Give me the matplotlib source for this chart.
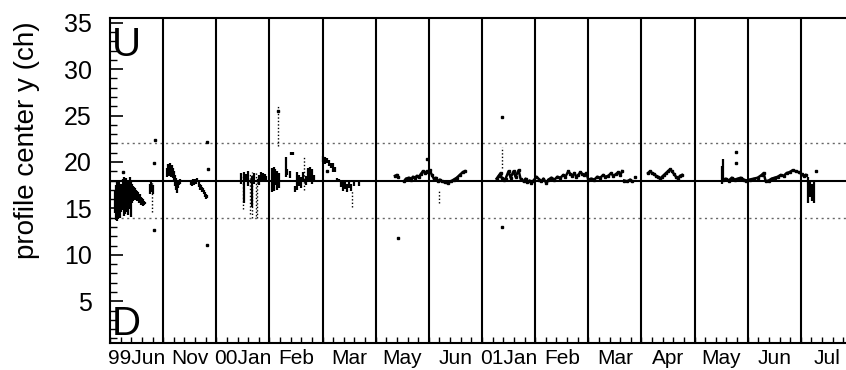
import numpy as np
import matplotlib
matplotlib.use("Agg")
import matplotlib.pyplot as plt

plt.rcParams['font.family'] = ['Liberation Sans', 'DejaVu Sans']

# month bins along the x axis (one bin per month with data)
months = ["99Jun", "Nov", "00Jan", "Feb", "Mar", "May", "Jun",
          "01Jan", "Feb", "Mar", "Apr", "May", "Jun", "Jul"]

y_nominal = 18.0
y_band = (14.0, 22.0)

# dense vertical spreads of the profile centre: x (bin units), low, high
spread_x = [0.094, 0.113, 0.131, 0.150, 0.169, 0.188, 0.206, 0.225, 0.244, 0.263,
            0.281, 0.300, 0.319, 0.338, 0.356, 0.375, 0.394, 0.413, 0.431, 0.450,
            0.469, 0.488, 0.506, 0.525, 0.544, 0.563, 0.581, 0.600, 0.619, 0.638,
            0.656, 0.750, 0.769, 0.806,
            1.069, 1.088, 1.106, 1.125, 1.144, 1.163, 1.181, 1.200, 1.219, 1.238,
            1.256, 1.275, 1.294, 1.313, 1.519, 1.538, 1.556, 1.575, 1.594, 1.613,
            1.631, 1.669, 1.688, 1.706, 1.725, 1.744, 1.763, 1.781, 1.800, 1.819,
            2.456, 2.513, 2.550, 2.588, 2.681, 2.719, 2.813, 2.850, 2.888, 2.925, 2.944,
            3.056, 3.094, 3.113, 3.150, 3.188, 3.319, 3.338, 3.394, 3.413, 3.450,
            3.488, 3.525, 3.563, 3.600, 3.638, 3.694, 3.731, 3.769, 3.806, 3.844,
            4.013, 4.050, 4.088, 4.125, 4.163, 4.200, 4.238, 4.275, 4.313, 4.350,
            4.388, 4.425, 4.463, 4.500, 4.538, 4.594, 4.688,
            11.513, 11.531, 13.125, 13.181, 13.219, 13.256]
spread_lo = [14.5, 13.8, 13.6, 13.9, 14.2, 14.0, 14.6, 15.0, 14.8, 14.2,
             14.4, 15.0, 14.6, 14.3, 15.2, 14.9, 14.1, 15.6, 15.8, 16.0,
             15.9, 16.2, 15.8, 16.0, 15.6, 15.7, 15.4, 15.5, 15.3, 15.4,
             15.5, 16.6, 16.8, 16.6,
             18.4, 18.5, 18.6, 18.5, 18.4, 18.6, 18.3, 17.8, 17.4, 17.0,
             16.7, 17.2, 17.5, 17.6, 17.5, 17.4, 17.6, 17.5, 17.7, 17.6,
             17.8, 17.3, 17.0, 17.2, 16.8, 16.9, 16.6, 16.2, 16.0, 16.1,
             17.6, 15.6, 17.8, 17.4, 15.2, 17.6, 17.5, 18.1, 17.9, 18.0, 17.8,
             16.8, 16.9, 17.5, 17.0, 17.2, 18.4, 18.6, 18.3, 20.8, 20.8,
             16.8, 17.0, 17.4, 17.2, 17.8, 17.5, 17.8, 17.9, 17.6, 17.8,
             20.0, 19.8, 19.9, 19.6, 19.4, 18.9, 18.9, 17.9, 17.8, 17.3,
             16.9, 17.1, 16.8, 17.2, 16.9, 17.4, 17.4,
             17.6, 17.8, 15.6, 16.2, 15.8, 15.6]
spread_hi = [17.0, 17.5, 17.8, 17.4, 17.9, 17.2, 17.6, 17.0, 18.2, 18.4,
             18.0, 18.3, 17.8, 18.1, 17.6, 18.4, 18.0, 17.6, 17.4, 17.3,
             17.2, 17.0, 16.9, 16.8, 16.6, 16.5, 16.2, 16.1, 16.0, 15.8,
             15.7, 17.6, 17.9, 17.5,
             19.4, 19.8, 19.6, 19.9, 19.5, 19.7, 19.4, 19.0, 18.6, 18.3,
             18.1, 17.9, 18.0, 18.2, 18.0, 17.9, 18.2, 17.9, 18.2, 18.0,
             18.3, 17.8, 17.6, 17.5, 17.3, 17.2, 17.0, 16.8, 16.5, 16.4,
             18.8, 18.9, 18.7, 19.0, 18.5, 18.8, 18.6, 18.9, 18.8, 18.7, 18.5,
             19.4, 19.5, 19.2, 19.0, 18.8, 20.5, 19.2, 19.0, 21.1, 21.1,
             17.4, 18.9, 18.6, 18.4, 18.9, 18.5, 19.3, 19.5, 19.2, 18.6,
             20.6, 20.5, 20.4, 20.2, 19.9, 19.9, 19.5, 18.3, 18.2, 18.1,
             17.9, 17.8, 17.6, 17.9, 17.6, 17.8, 17.8,
             19.6, 20.3, 18.4, 18.0, 17.6, 17.9]

# sparse, dotted spreads
sparse_x = [0.788, 2.494, 2.625, 2.663, 2.756, 2.775, 3.169, 3.656, 4.556, 6.188, 7.369]
sparse_lo = [14.6, 14.9, 14.4, 14.0, 14.2, 14.0, 21.7, 17.0, 15.1, 15.6, 19.3]
sparse_hi = [18.0, 18.7, 18.8, 18.9, 18.9, 18.4, 26.0, 20.5, 17.0, 17.0, 21.6]

# slow drift of the profile centre, NaN separates runs
track_x = [5.363, 5.400, 5.419, np.nan,
           5.531, 5.569, 5.625, 5.663, 5.700, 5.738, 5.775, 5.813, 5.850, 5.888,
           5.925, 5.963, 5.981, 6.019, 6.056, 6.094, 6.131, 6.169, 6.206, 6.244,
           6.300, 6.356, 6.413, 6.469, 6.525, 6.581, 6.638, 6.675, np.nan,
           7.275, 7.313, 7.350, 7.369, 7.406, 7.444, 7.500, 7.538, 7.594, 7.631,
           7.688, 7.725, 7.781, 7.819, 7.856, 7.894, 7.931, 7.969, 8.025, 8.081,
           8.119, 8.156, 8.213, 8.250, 8.306, 8.363, 8.419, 8.475, 8.531, 8.569,
           8.625, 8.663, 8.700, 8.738, 8.775, 8.813, 8.850, 8.888, 8.925, 8.963,
           9.000, 9.056, 9.113, 9.169, 9.225, 9.281, 9.319, 9.375, 9.431, 9.469,
           9.525, 9.563, 9.600, 9.638, np.nan,
           9.675, 9.731, 9.788, 9.825, np.nan,
           10.125, 10.163, 10.200, 10.238, 10.275, 10.313, 10.350, 10.388, 10.425,
           10.463, 10.500, 10.538, 10.575, 10.613, 10.650, 10.688, 10.725, 10.763, np.nan,
           11.531, 11.588, 11.644, 11.700, 11.756, 11.813, 11.869, 11.925, 11.963,
           12.038, 12.113, 12.188, 12.263, 12.300, 12.338, 12.394, 12.450, 12.506,
           12.563, 12.619, 12.675, 12.731, 12.788, 12.844, 12.900, 12.956, 13.013,
           13.050, 13.088]
track_y = [18.5, 18.6, 18.4, np.nan,
           17.9, 18.2, 18.3, 18.1, 18.4, 18.3, 18.5, 18.4, 18.7, 19.0,
           18.8, 19.0, 18.9, 19.1, 18.6, 18.2, 18.3, 17.9, 18.1, 17.9,
           17.8, 17.7, 17.9, 18.1, 18.3, 18.6, 18.9, 19.0, np.nan,
           18.2, 18.5, 18.8, 18.3, 18.1, 18.2, 19.0, 18.3, 19.0, 18.4,
           19.1, 18.2, 17.9, 18.2, 17.8, 18.0, 17.7, 18.0, 18.4, 18.1,
           17.9, 18.2, 17.7, 18.1, 18.3, 18.1, 18.4, 18.3, 18.6, 18.4,
           19.0, 18.7, 18.5, 18.8, 18.4, 18.6, 18.9, 18.7, 18.6, 18.8,
           18.1, 18.2, 18.1, 18.4, 18.3, 18.6, 18.4, 18.5, 18.8, 18.5,
           18.7, 18.9, 18.6, 19.0, np.nan,
           18.0, 17.9, 18.1, 17.9, np.nan,
           18.8, 19.0, 18.8, 18.7, 18.5, 18.4, 18.2, 18.4, 18.6,
           18.8, 19.0, 19.2, 19.0, 18.7, 18.4, 18.2, 18.5, 18.6, np.nan,
           18.1, 18.2, 18.0, 18.3, 18.1, 18.2, 18.3, 18.1, 18.0,
           18.1, 18.2, 18.3, 18.6, 18.8, 17.9, 18.0, 18.2, 18.3,
           18.4, 18.6, 18.5, 18.8, 18.9, 19.1, 19.0, 18.9, 18.7,
           18.5, 18.6]

# isolated readings
dot_x = [0.244, 0.825, 0.825, 0.844, 1.838, 1.819, 1.819, 3.169, 4.088,
         5.419, 5.963, 7.369, 7.369, 9.881, 11.775, 11.775, 13.294]
dot_y = [18.9, 12.7, 19.9, 22.4, 19.2, 22.1, 11.1, 25.5, 19.0,
         11.8, 20.3, 24.8, 13.0, 18.4, 21.1, 19.9, 19.0]

fig = plt.figure(figsize=(8.46, 3.70), dpi=100)
ax = fig.add_axes([110 / 846, 27 / 370, 744 / 846, 325 / 370])

n = len(months)
ax.set_xlim(0, n)
ax.set_ylim(0.5, 35.5)

# reference levels and month separators
ax.axhline(y_nominal, color='black', lw=1.5, zorder=3)
for yb in y_band:
    ax.axhline(yb, color='#666666', lw=1.0, ls=(0, (1.5, 2.5)), zorder=1)
for i in range(1, n):
    ax.axvline(i, color='black', lw=1.5, zorder=3)

ax.vlines(spread_x, spread_lo, spread_hi, color='black', lw=1.6, zorder=4)
ax.vlines(sparse_x, sparse_lo, sparse_hi, color='black', lw=1.0,
          linestyles=(0, (1, 1.5)), zorder=4)
ax.plot(track_x, track_y, color='black', lw=1.8, marker='s', ms=2.0, zorder=4)
ax.plot(dot_x, dot_y, ls='none', marker='s', ms=1.6, color='black', zorder=4)

# axes decoration
for side in ['top', 'right', 'bottom', 'left']:
    ax.spines[side].set_linewidth(1.5)

ax.set_yticks(range(5, 36, 5))
ax.set_yticks(range(1, 36), minor=True)
ax.tick_params(axis='y', which='major', direction='in', length=9.5, width=1.2,
               labelsize=18, pad=13)
ax.tick_params(axis='y', which='minor', direction='in', length=5, width=1.0)

ax.set_xticks(np.arange(n) + 0.5)
ax.set_xticklabels(months)
ax.set_xticks(np.arange(0, n, 0.2), minor=True)
ax.tick_params(axis='x', which='major', length=0, labelsize=15, pad=4)
ax.tick_params(axis='x', which='minor', direction='in', length=4.5, width=1.0)

ax.text(0.04, 31.4, "U", fontsize=29, ha='left', va='baseline', zorder=5)
ax.text(0.04, 1.35, "D", fontsize=29, ha='left', va='baseline', zorder=5)

fig.text(27 / 846, 1 - 140 / 370, "profile center y (ch)", rotation=90,
         ha='center', va='center', fontsize=20)

fig.savefig("out.png", dpi=100)
